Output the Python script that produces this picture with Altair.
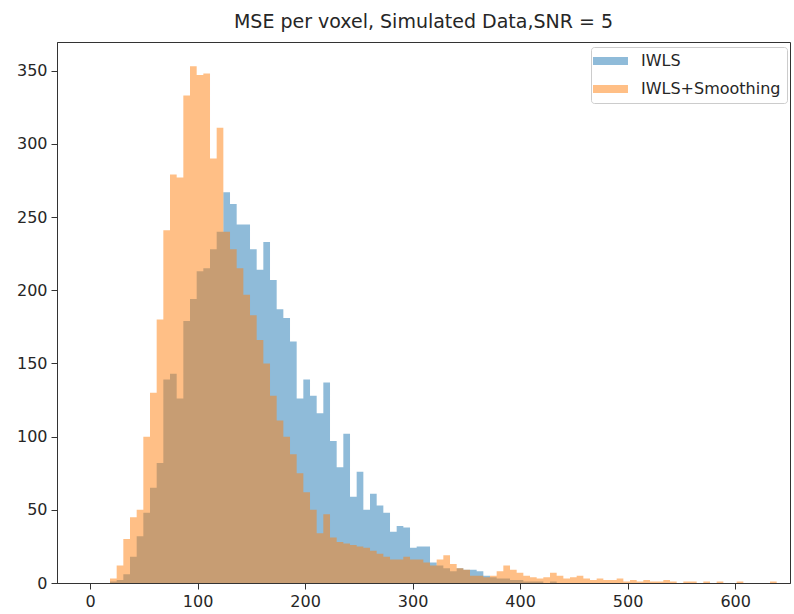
import altair as alt
import pandas as pd

BIN_START = 18.6
BIN_WIDTH = 6.2

SERIES = ["IWLS", "IWLS+Smoothing"]
COLORS = ["#1f77b4", "#ff7f0e"]

iwls = [1, 2, 6, 18, 32, 48, 65, 82, 139, 143,
        126, 179, 194, 213, 215, 228, 240, 267, 259, 245,
        245, 228, 214, 233, 207, 187, 181, 165, 126, 139,
        128, 116, 137, 97, 79, 102, 59, 76, 50, 61,
        53, 48, 35, 39, 38, 24, 25, 25, 14, 12,
        10, 8, 10, 9, 9, 8, 5, 4, 3, 3,
        2, 2, 1, 1, 1, 0, 1, 0, 0, 0,
        0, 0, 0, 0, 0, 0, 0, 0, 0, 0,
        0, 0, 0, 0, 0, 0, 0, 0, 0, 0,
        0, 0, 0, 0, 0, 0, 0, 0, 0, 0]

smooth = [3, 12, 30, 45, 50, 100, 130, 180, 241, 279,
          277, 333, 353, 347, 348, 290, 311, 240, 228, 215,
          197, 183, 166, 150, 128, 111, 100, 88, 75, 62,
          50, 34, 47, 31, 28, 27, 26, 25, 24, 22,
          20, 18, 16, 16, 18, 16, 16, 14, 12, 16,
          19, 13, 10, 9, 5, 5, 4, 5, 8, 12,
          9, 7, 5, 4, 3, 4, 7, 5, 3, 4,
          5, 3, 2, 3, 2, 2, 3, 1, 2, 1,
          2, 1, 1, 2, 1, 0, 1, 1, 0, 1,
          0, 1, 0, 0, 1, 0, 0, 0, 0, 1]

X_TICKS = [0, 100, 200, 300, 400, 500, 600]
Y_TICKS = [0, 50, 100, 150, 200, 250, 300, 350]
TITLE = "MSE per voxel, Simulated Data,SNR = 5"

rows = []
for name, counts in zip(SERIES, [iwls, smooth]):
    for i, c in enumerate(counts):
        rows.append({"series": name, "x": BIN_START + i * BIN_WIDTH, "count": c})
    rows.append({"series": name, "x": BIN_START + len(counts) * BIN_WIDTH, "count": 0})
df = pd.DataFrame(rows)

FONT = "DejaVu Sans"
TXT = "#262626"

chart = alt.Chart(df).mark_area(interpolate="step-after", opacity=0.5).encode(
    x=alt.X("x:Q",
            scale=alt.Scale(domain=[-30.7, 651], nice=False, zero=False),
            axis=alt.Axis(values=X_TICKS, title=None, grid=False, labelFlush=False)),
    y=alt.Y("count:Q", stack=None,
            scale=alt.Scale(domain=[0, 369.6], nice=False),
            axis=alt.Axis(values=Y_TICKS, title=None, grid=False)),
    color=alt.Color("series:N",
                    scale=alt.Scale(domain=SERIES, range=COLORS),
                    legend=alt.Legend(title=None, orient="none", legendX=534, legendY=5,
                                      symbolType="M-2,-0.67H3.83V0.67H-2Z", symbolSize=144,
                                      symbolOpacity=0.5, symbolStrokeWidth=0,
                                      labelFontSize=16, labelFont=FONT, labelColor=TXT,
                                      labelOffset=28, padding=6, rowPadding=12,
                                      strokeColor="#cccccc", fillColor="white",
                                      cornerRadius=3)),
).properties(
    width=733, height=541,
    title=alt.TitleParams(TITLE, fontSize=19, font=FONT, fontWeight="normal",
                          color=TXT, offset=10, anchor="middle"),
    autosize=alt.AutoSizeParams(type="none"),
    padding={"left": 57, "top": 42, "right": 4, "bottom": 31},
).configure_view(
    stroke="#333333", strokeWidth=1
).configure_axis(
    labelFont=FONT, labelFontSize=16, labelColor=TXT,
    domainColor="#333333", tickColor="#333333", tickSize=6, labelPadding=4,
)

chart.save("out.html", embed_options={"renderer": "svg", "actions": False})
